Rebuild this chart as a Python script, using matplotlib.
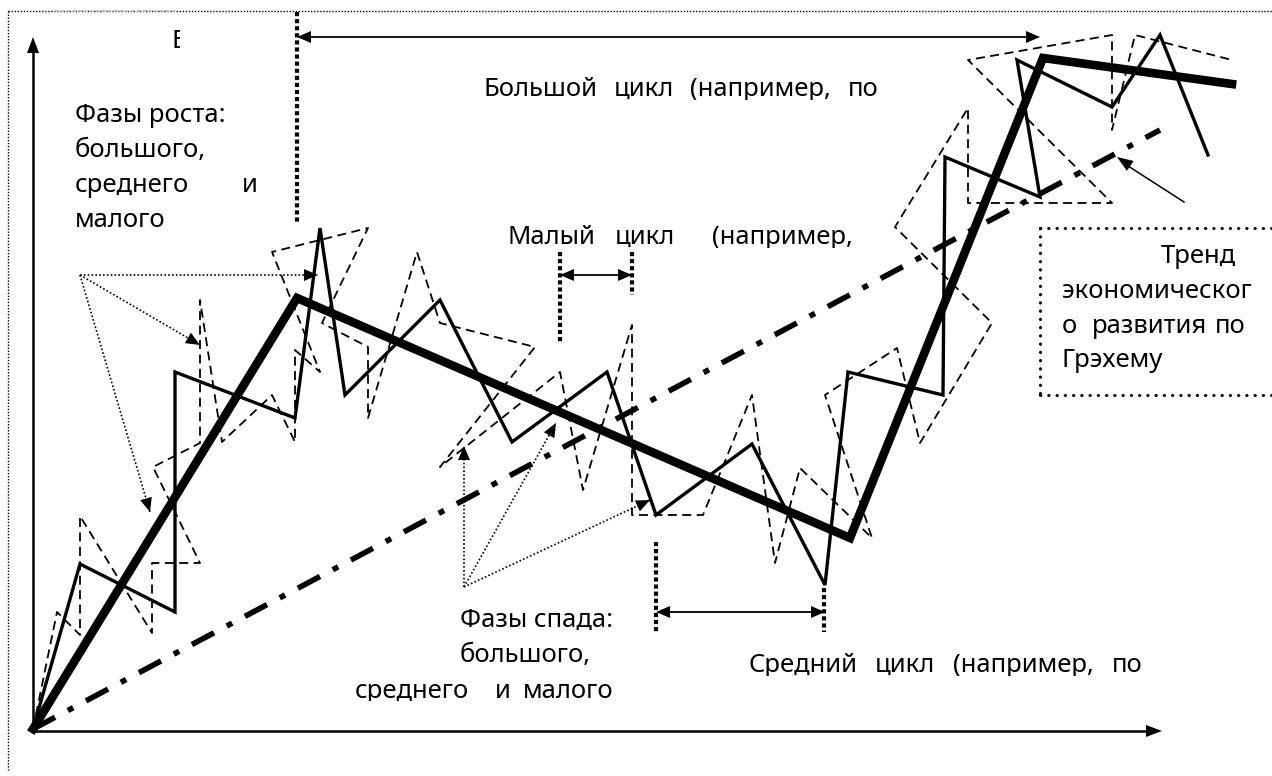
import matplotlib
matplotlib.use('Agg')
import numpy as np
import matplotlib.pyplot as plt
from matplotlib.patches import Rectangle, Polygon

plt.rcParams['font.family'] = ['Noto Sans', 'DejaVu Sans']

# Schematic drawn in pixel space of the original scheme (x to the right, y down)
big_x = [33, 297, 850, 1043, 1232]
big_y = [729, 298, 538, 58, 84]

mid_x = [33, 80, 175, 175, 295, 320, 345, 440, 512, 607, 656, 752, 825, 848,
         943, 945, 1040, 1017, 1112, 1160, 1208]
mid_y = [729, 564, 612, 372, 418, 228, 395, 300, 442, 372, 515, 444, 585, 372,
         395, 157, 197, 60, 107, 35, 155]

small_x = [33, 57, 80, 80, 152, 152, 200, 153, 200, 200, 222, 272, 295, 295, 320,
           272, 368, 322, 368, 368, 417, 440, 535, 440, 560, 583, 632, 632, 703, 752,
           775, 800, 872, 825, 897, 920, 992, 895, 968, 968, 1112, 968, 1112, 1112,
           1135, 1232]
small_y = [729, 612, 635, 516, 633, 563, 563, 467, 443, 300, 442, 395, 442, 350, 372,
           252, 228, 323, 347, 418, 252, 323, 347, 467, 372, 490, 325, 515, 515, 395,
           563, 468, 538, 395, 348, 443, 323, 227, 108, 203, 203, 60, 35, 130,
           35, 60]

trend_x = [33, 1160]
trend_y = [729, 130]

# cycle length markers: (x_start, x_end) of the double arrows
big_cycle = (297, 1040)
small_cycle = (560, 632)
mid_cycle = (656, 825)

# text
big_words = ["Большой", "цикл", "(например,", "по"]
small_words = ["Малый", "цикл", "(например,"]
mid_words = ["Средний", "цикл", "(например,", "по"]
growth_lines = ["Фазы роста:", "большого,", "среднего", "и", "малого"]
decline_lines = ["Фазы спада:", "большого,", "среднего", "и", "малого"]
trend_lines = ["Тренд", "экономическог", "о", "развития", "по", "Грэхему"]

W, H = 1272, 776
fig = plt.figure(figsize=(W / 100, H / 100), dpi=100)
ax = fig.add_axes([0, 0, 1, 1])
ax.set_xlim(0, W)
ax.set_ylim(H, 0)
ax.axis('off')

FS = 18.5


def head(p0, p1, length=14, width=12):
    # filled triangular arrow head at p1, pointing from p0
    p0, p1 = np.array(p0, float), np.array(p1, float)
    u = (p1 - p0) / np.hypot(*(p1 - p0))
    n = np.array([-u[1], u[0]])
    base = p1 - length * u
    tri = [p1, base + n * width / 2, base - n * width / 2]
    ax.add_patch(Polygon(tri, closed=True, color='black', lw=0, zorder=6))


def word(x, y, s, clip=None, ha='left'):
    t = ax.text(x, y, s, fontsize=FS, ha=ha, va='baseline', color='black', zorder=7)
    if clip is not None:
        x0, x1, y1 = clip
        t.set_clip_on(True)
        t.set_clip_path(Rectangle((x0, 0), x1 - x0, y1, transform=ax.transData))
    return t


# outer dotted frame
ax.plot([8, 8], [11, 770], color='black', lw=1.0, ls=(0, (1, 1.2)))
ax.plot([8, W], [11, 11], color='black', lw=1.0, ls=(0, (1, 1.2)))
ax.plot([55, 175], [11, 11], color='#bbbbbb', lw=1.2, ls=(0, (2, 1.5)))

# coordinate axes
ax.plot([33, 33], [731, 50], color='black', lw=1.8)
head((33, 731), (33, 37), 16, 12)
ax.plot([33, 1148], [731, 731], color='black', lw=1.8)
head((33, 731), (1162, 731), 16, 12)

# cycles
ax.plot(small_x, small_y, color='black', lw=1.3, ls=(0, (5, 3)), zorder=3)
ax.plot(mid_x, mid_y, color='black', lw=2.4, solid_joinstyle='miter', zorder=4)
ax.plot(big_x, big_y, color='black', lw=6.2, solid_joinstyle='miter', zorder=5)
ax.plot(trend_x, trend_y, color='black', lw=4.0, ls=(0, (4.5, 2.6, 1.1, 2.6)),
        dash_capstyle='butt', zorder=5)

# cycle length markers
thick_dot = dict(color='black', lw=3.0, ls=(0, (1, 0.7)), dash_capstyle='butt')
ax.plot([297, 297], [12, 222], **thick_dot)
ax.plot([big_cycle[0] + 10, big_cycle[1] - 10], [37, 37], color='black', lw=1.3)
head((big_cycle[1], 37), (big_cycle[0], 37))
head((big_cycle[0], 37), (big_cycle[1], 37))

ax.plot([560, 560], [252, 342], **thick_dot)
ax.plot([632, 632], [252, 295], **thick_dot)
ax.plot([small_cycle[0] + 10, small_cycle[1] - 10], [275, 275], color='black', lw=1.3)
head((small_cycle[1], 275), (small_cycle[0], 275))
head((small_cycle[0], 275), (small_cycle[1], 275))

ax.plot([656, 656], [542, 632], **thick_dot)
ax.plot([824, 824], [588, 632], **thick_dot)
ax.plot([mid_cycle[0] + 10, mid_cycle[1] - 10], [612, 612], color='black', lw=1.3)
head((mid_cycle[1], 612), (mid_cycle[0], 612))
head((mid_cycle[0], 612), (mid_cycle[1], 612))

# pointer arrows (dotted)
dotted = dict(color='black', lw=1.2, ls=(0, (1, 1.3)))
for end in [(318, 275), (200, 345), (150, 512)]:
    ax.plot([80, end[0]], [275, end[1]], **dotted)
    head((80, 275), end)
for end in [(464, 446), (556, 423), (650, 500)]:
    ax.plot([464, end[0]], [587, end[1]], **dotted)
    head((464, 587), end)

# arrow to the trend line
ax.plot([1184, 1125], [202, 164], color='black', lw=1.1)
head((1184, 202), (1117, 157), 16, 12)

# trend label box
box = dict(color='black', lw=2.2, ls=(0, (0.1, 2.6)), dash_capstyle='round')
ax.plot([1040, W], [228, 228], **box)
ax.plot([1040, 1040], [228, 395], **box)
ax.plot([1040, W], [395, 395], **box)

# texts
word(171, 48, "Б", clip=(160, 180, 100))

for x, s in zip([483, 614, 690, 848], big_words):
    word(x, 96, s, clip=(0, W, 100))
for x, s in zip([508, 615, 712], small_words):
    word(x, 244, s, clip=(0, W, 248))
for x, s in zip([748, 875, 953, 1112], mid_words):
    word(x, 672, s, clip=(0, W, 676))

word(75, 122, growth_lines[0])
word(75, 157, growth_lines[1])
word(75, 192, growth_lines[2])
word(242, 192, growth_lines[3])
word(75, 227, growth_lines[4])

word(460, 627, decline_lines[0])
word(460, 662, decline_lines[1])
word(355, 698, decline_lines[2], clip=(0, W, 701))
word(495, 698, decline_lines[3], clip=(0, W, 701))
word(523, 698, decline_lines[4], clip=(0, W, 701))

word(1236, 263, trend_lines[0], ha='right')
word(1062, 298, trend_lines[1])
word(1062, 333, trend_lines[2])
word(1092, 333, trend_lines[3])
word(1246, 333, trend_lines[4], ha='right')
word(1062, 367, trend_lines[5])

fig.savefig('out.png', dpi=100, facecolor='white')
